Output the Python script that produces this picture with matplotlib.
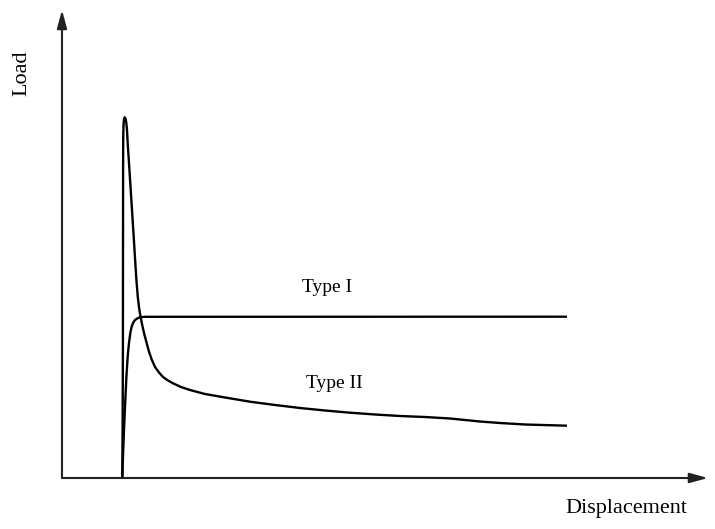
import matplotlib
matplotlib.use("Agg")
import matplotlib.pyplot as plt

plt.rcParams['font.family'] = ['Liberation Serif', 'DejaVu Serif']

# Arbitrary units
type1_x = [60.3, 61.2, 62.2, 63.3, 64.5, 65.8, 67.0, 68.3, 69.7, 71.3, 73.0, 75.5, 78.0, 83.0, 505.0]
type1_y = [0.0, 28.0, 53.0, 78.0, 103.0, 123.0, 135.0, 145.0, 151.5, 155.5, 158.0, 159.7, 160.7, 161.2, 161.3]

type2_x = [60.3, 60.6, 60.9, 61.0, 61.1, 61.2, 61.5, 62.0, 62.7, 63.5, 64.2, 65.0, 65.8, 66.8,
           68.4, 70.0, 71.6, 73.0, 74.4, 75.8, 77.1, 78.6, 80.2, 82.0, 86.5, 89.5, 93.0, 97.0,
           101.0, 106.0, 111.0, 119.0, 128.0, 143.0, 163.0, 188.0, 213.0, 238.0, 263.0, 288.0,
           313.0, 338.0, 363.0, 388.0, 418.0, 438.0, 463.0, 505.0]
type2_y = [0.0, 48.0, 128.0, 228.0, 308.0, 338.0, 353.0, 358.5, 360.7, 359.5, 356.0, 348.0, 333.0, 318.0,
           293.0, 268.0, 243.0, 220.0, 198.0, 181.0, 170.0, 161.0, 153.0, 145.0, 128.0, 119.0, 111.0, 105.5,
           101.0, 97.5, 94.7, 91.0, 88.0, 84.0, 80.5, 76.3, 73.0, 70.0, 67.5, 65.3,
           63.5, 62.0, 61.0, 59.5, 56.5, 55.0, 53.5, 52.3]

labels = ["Type I", "Type II"]
label_pos = [(265, 190), (272, 95)]

W, H = 715, 529
fig = plt.figure(figsize=(W / 100, H / 100), dpi=100)
x0, x1, ytop, ybot = 62, 708, 10, 478
ax = fig.add_axes([x0 / W, 1 - ybot / H, (x1 - x0) / W, (ybot - ytop) / H])
ax.set_xlim(0, x1 - x0)
ax.set_ylim(0, ybot - ytop)
for s in ax.spines.values():
    s.set_visible(False)
ax.set_xticks([])
ax.set_yticks([])
ax.patch.set_alpha(0)

ax.plot(type1_x, type1_y, color='black', lw=1.7, solid_joinstyle='round', solid_capstyle='butt')
ax.plot(type2_x, type2_y, color='black', lw=1.7, solid_joinstyle='round', solid_capstyle='butt')

# axes with arrows
arrow_kw = dict(arrowstyle='-|>,head_length=1.1,head_width=0.3', color='#222222', lw=1.5,
                shrinkA=0, shrinkB=0)
ax.annotate('', xy=(1, 0), xytext=(0, 0), xycoords='axes fraction',
            textcoords='axes fraction', arrowprops=arrow_kw, annotation_clip=False)
ax.annotate('', xy=(0, 1), xytext=(0, 0), xycoords='axes fraction',
            textcoords='axes fraction', arrowprops=arrow_kw, annotation_clip=False)

for lab, (lx, ly) in zip(labels, label_pos):
    ax.text(lx, ly, lab, fontsize=14, ha='center', va='center')

fig.text(626 / W, 1 - 508 / H, "Displacement", fontsize=16, ha='center', va='center')
fig.text(22 / W, 1 - 73 / H, "Load", fontsize=16, ha='center', va='center', rotation=90)

fig.savefig("out.png", dpi=100)
